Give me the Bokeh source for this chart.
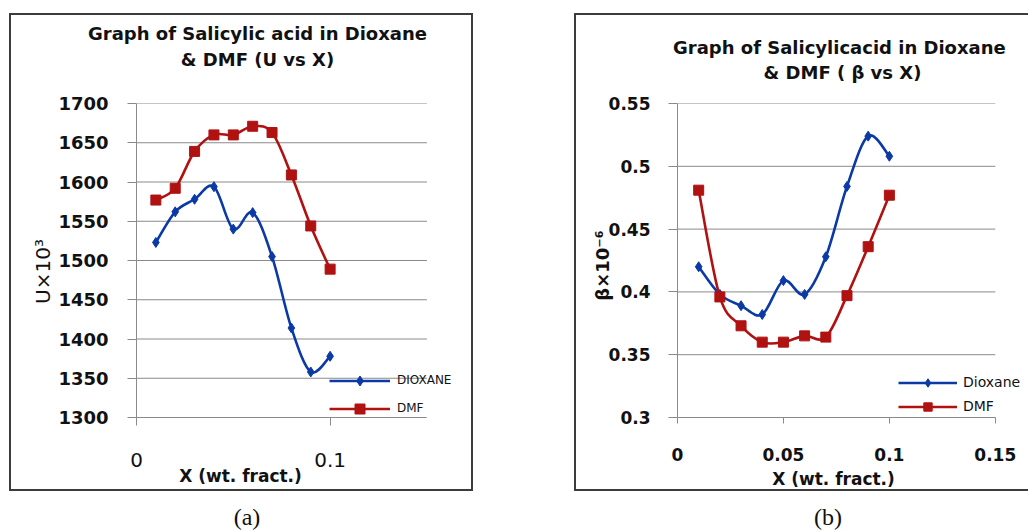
import numpy as np
from bokeh.plotting import figure
from bokeh.models import Range1d, FixedTicker, Label, Legend, LegendItem, Div, Spacer
from bokeh.layouts import row, column
from bokeh.embed import file_html
from bokeh.resources import INLINE

# ---------------- data ----------------
x_frac = [0.01, 0.02, 0.03, 0.04, 0.05, 0.06, 0.07, 0.08, 0.09, 0.10]

u_dioxane = [1523, 1562, 1578, 1594, 1540, 1561, 1505, 1414, 1358, 1378]
u_dmf = [1577, 1592, 1639, 1660, 1660, 1671, 1663, 1609, 1544, 1489]

beta_dioxane = [0.420, 0.398, 0.389, 0.382, 0.409, 0.398, 0.428, 0.484, 0.524, 0.508]
beta_dmf = [0.481, 0.396, 0.373, 0.360, 0.360, 0.365, 0.364, 0.397, 0.436, 0.477]

u_ticks = [1300, 1350, 1400, 1450, 1500, 1550, 1600, 1650, 1700]
u_tick_labels = ["1300", "1350", "1400", "1450", "1500", "1550", "1600", "1650", "1700"]
beta_ticks = [0.3, 0.35, 0.4, 0.45, 0.5, 0.55]
beta_tick_labels = ["0.3", "0.35", "0.4", "0.45", "0.5", "0.55"]
x_axis_extent = [0, 0.15]
xa_ticks = [0, 0.1]
xa_tick_labels = ["0", "0.1"]
xb_ticks = [0, 0.05, 0.1, 0.15]
xb_tick_labels = ["0", "0.05", "0.1", "0.15"]

series_a = ["DIOXANE", "DMF"]
series_b = ["Dioxane", "DMF"]

# ---------------- style ----------------
BLUE = "#0b3aa6"
RED = "#b01212"
GRID = "#8a8a8a"
FONT = "DejaVu Sans"
TXT = "#111111"


def smooth_segments(xs, ys, t=1.0 / 6.0):
    """Bezier control points (Catmull-Rom style) so the line looks smoothed."""
    xs = np.asarray(xs, float)
    ys = np.asarray(ys, float)
    n = len(xs)
    xp = np.concatenate([[xs[0]], xs, [xs[-1]]])
    yp = np.concatenate([[ys[0]], ys, [ys[-1]]])
    return dict(
        x0=xp[1:n], y0=yp[1:n],
        x1=xp[2:n + 1], y1=yp[2:n + 1],
        cx0=xp[1:n] + (xp[2:n + 1] - xp[0:n - 1]) * t,
        cy0=yp[1:n] + (yp[2:n + 1] - yp[0:n - 1]) * t,
        cx1=xp[2:n + 1] - (xp[3:n + 2] - xp[1:n]) * t,
        cy1=yp[2:n + 1] - (yp[3:n + 2] - yp[1:n]) * t,
    )


def make_panel(w, h, xr, yr, mb, yticks, ylabels, xticks, xlabels,
               x_tick_out, x_lab_size, x_lab_style, x_standoff, y_standoff, y_lab_size):
    p = figure(width=w, height=h, x_range=Range1d(*xr), y_range=Range1d(*yr),
               output_backend="svg", toolbar_location=None,
               min_border_left=mb[0], min_border_right=mb[1],
               min_border_top=mb[2], min_border_bottom=mb[3])
    p.title.visible = False
    p.outline_line_color = None
    p.background_fill_color = "white"
    p.border_fill_color = "white"
    p.xgrid.visible = False
    p.ygrid.visible = False
    # horizontal grid lines spanning only the x-axis extent
    p.segment(x0=[x_axis_extent[0]] * len(yticks), x1=[x_axis_extent[1]] * len(yticks),
              y0=yticks, y1=yticks, line_color=GRID, line_width=1, level="underlay")

    p.yaxis.ticker = FixedTicker(ticks=yticks)
    p.yaxis.bounds = (yticks[0], yticks[-1])
    p.yaxis.major_label_overrides = dict(zip(yticks, ylabels))
    p.yaxis.axis_line_color = GRID
    p.yaxis.major_tick_line_color = GRID
    p.yaxis.major_tick_out = 9
    p.yaxis.major_tick_in = 0
    p.yaxis.minor_tick_line_color = None
    p.yaxis.major_label_standoff = y_standoff
    p.yaxis.major_label_text_font = FONT
    p.yaxis.major_label_text_font_size = y_lab_size
    p.yaxis.major_label_text_font_style = "bold"
    p.yaxis.major_label_text_color = TXT

    p.xaxis.ticker = FixedTicker(ticks=xticks)
    p.xaxis.bounds = tuple(x_axis_extent)
    p.xaxis.major_label_overrides = dict(zip(xticks, xlabels))
    p.xaxis.axis_line_color = GRID
    p.xaxis.major_tick_line_color = GRID
    p.xaxis.major_tick_out = x_tick_out
    p.xaxis.major_tick_in = 0
    p.xaxis.minor_tick_line_color = None
    p.xaxis.major_label_standoff = x_standoff
    p.xaxis.major_label_text_font = FONT
    p.xaxis.major_label_text_font_size = x_lab_size
    p.xaxis.major_label_text_font_style = x_lab_style
    p.xaxis.major_label_text_color = TXT
    return p


def add_series(p, xs, ys, color, marker, msize):
    seg = smooth_segments(xs, ys)
    r_line = p.bezier(x0=seg["x0"], y0=seg["y0"], x1=seg["x1"], y1=seg["y1"],
                      cx0=seg["cx0"], cy0=seg["cy0"], cx1=seg["cx1"], cy1=seg["cy1"],
                      line_color=color, line_width=2.6)
    r_pts = p.scatter(xs, ys, marker=marker, size=msize, fill_color=color,
                      line_color=color)
    return [r_line, r_pts]


def add_text(p, side, x, y, text, size, style="bold", angle=0.0):
    # each label sits in its own side panel; x/y are pixels from that panel's
    # left / bottom edge
    p.add_layout(Label(x=x, y=y, x_units="screen", y_units="screen", text=text,
                       text_font=FONT, text_font_size=size, text_font_style=style,
                       text_color=TXT, text_align="center",
                       text_baseline="middle", angle=angle), side)


# ---------------- geometry (pixels) ----------------
A_W, A_H = 460, 474
A_L, A_T, A_B = 125, 81, 70
A_X015 = 287.0          # pixels from x=0 to x=0.15
a_x_end = 0.15 * (A_W - A_L) / A_X015

B_W, B_H = 452, 474
B_L, B_T, B_B = 101, 88, 76
B_X015 = 316.0
b_x_end = 0.15 * (B_W - B_L) / B_X015

# ---------------- panel (a) ----------------
pa = make_panel(A_W + 4, A_H + 4, (0, a_x_end), (1300, 1700), (A_L, 0, A_T, A_B),
                u_ticks, u_tick_labels, xa_ticks, xa_tick_labels,
                8, "20px", "normal", 27, 19, "18px")
ra1 = add_series(pa, x_frac, u_dioxane, BLUE, "diamond", 10)
ra2 = add_series(pa, x_frac, u_dmf, RED, "square", 10)
add_text(pa, "above", 121, 70, "Graph of Salicylic acid in Dioxane", "18px")
add_text(pa, "above", 121, 23.5, "& DMF (U vs X)", "18px")
add_text(pa, "above", 104, -414, "X (wt. fract.)", "17px")
add_text(pa, "left", 11, 146, "U×10³", "20px", style="normal", angle=np.pi / 2)
leg_a = Legend(items=[LegendItem(label=series_a[0], renderers=ra1),
                      LegendItem(label=series_a[1], renderers=ra2)],
               location=(193, -3.5), padding=0, margin=0, spacing=3,
               glyph_height=25, glyph_width=61, label_height=25, label_standoff=7,
               border_line_color=None, background_fill_alpha=0,
               label_text_font=FONT, label_text_font_size="12px",
               label_text_color=TXT)
pa.add_layout(leg_a)
pa.styles = {"border": "2px solid #3c3c3c"}

# ---------------- panel (b) ----------------
pb = make_panel(B_W + 2, B_H + 4, (0, b_x_end), (0.3, 0.55), (B_L, 0, B_T, B_B),
                beta_ticks, beta_tick_labels, xb_ticks, xb_tick_labels,
                6, "17px", "bold", 24, 18, "17px")
rb1 = add_series(pb, x_frac, beta_dioxane, BLUE, "diamond", 10)
rb2 = add_series(pb, x_frac, beta_dmf, RED, "square", 10)
add_text(pb, "above", 165, 56, "Graph of Salicylicacid  in Dioxane", "18px")
add_text(pb, "above", 165, 10, "& DMF ( β vs X)", "18px")
add_text(pb, "below", 156, 5, "X (wt. fract.)", "17px")
add_text(pb, "left", 18, 152, "β×10⁻⁶", "18px", angle=np.pi / 2)
leg_b = Legend(items=[LegendItem(label=series_b[0], renderers=rb1),
                      LegendItem(label=series_b[1], renderers=rb2)],
               location=(221, 0.5), padding=0, margin=0, spacing=3,
               glyph_height=21, glyph_width=59, label_height=21, label_standoff=6,
               border_line_color=None, background_fill_alpha=0,
               label_text_font=FONT, label_text_font_size="14px",
               label_text_color=TXT)
pb.add_layout(leg_b)
pb.styles = {"border-top": "2px solid #3c3c3c", "border-left": "2px solid #3c3c3c",
             "border-bottom": "2px solid #3c3c3c"}

# ---------------- captions & layout ----------------
cap_style = {"font-family": "Liberation Serif", "font-size": "24px",
             "line-height": "10px", "text-align": "center", "overflow": "visible",
             "color": TXT}
cap_a = Div(text="(a)", width=100, height=10, styles=cap_style, margin=0)
cap_b = Div(text="(b)", width=100, height=10, styles=cap_style, margin=0)

layout = column(
    Spacer(height=13, width=10, margin=0),
    row(Spacer(width=9, height=10, margin=0), pa, Spacer(width=101, height=10, margin=0), pb),
    Spacer(height=21, width=10, margin=0),
    row(Spacer(width=197, height=10, margin=0), cap_a,
        Spacer(width=481, height=10, margin=0), cap_b),
)

with open("out.html", "w") as f:
    f.write(file_html(layout, INLINE))
